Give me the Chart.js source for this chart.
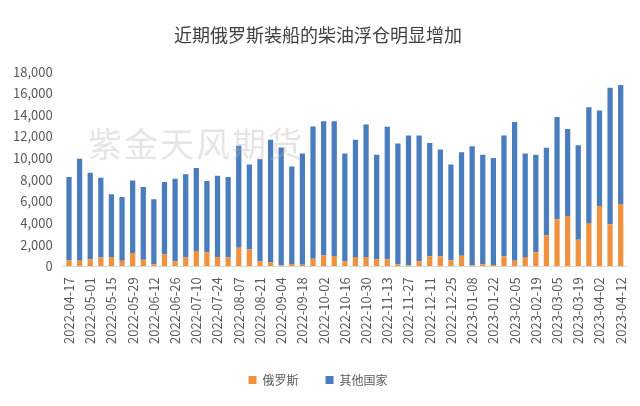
<!DOCTYPE html>
<html>
<head>
<meta charset="utf-8">
<script src="https://cdn.jsdelivr.net/npm/chart.js@4"></script>
<style>
  body { margin: 0; background: #fff; }
  #wrap { width: 640px; height: 406px; position: relative; }
  #wm { position: absolute; left: 88px; top: 118px; font: 34px "Noto Sans CJK SC"; color: rgba(180,180,180,0.35); letter-spacing: 2px; }
</style>
</head>
<body>
<div id="wrap">
  <canvas id="c" width="640" height="406"></canvas>
  <div id="wm">紫金天风期货</div>
</div>
<script>
// 周度日期
const dates = [
  '2022-04-17','2022-04-24','2022-05-01','2022-05-08','2022-05-15','2022-05-22','2022-05-29',
  '2022-06-05','2022-06-12','2022-06-19','2022-06-26','2022-07-03','2022-07-10','2022-07-17',
  '2022-07-24','2022-07-31','2022-08-07','2022-08-14','2022-08-21','2022-08-28','2022-09-04',
  '2022-09-11','2022-09-18','2022-09-25','2022-10-02','2022-10-09','2022-10-16','2022-10-23',
  '2022-10-30','2022-11-06','2022-11-13','2022-11-20','2022-11-27','2022-12-04','2022-12-11',
  '2022-12-18','2022-12-25','2023-01-01','2023-01-08','2023-01-15','2023-01-22','2023-01-29',
  '2023-02-05','2023-02-12','2023-02-19','2023-02-26','2023-03-05','2023-03-12','2023-03-19',
  '2023-03-26','2023-04-02','2023-04-09','2023-04-12'
];

// 俄罗斯
const russia = [
  550,500,650,800,860,500,1230,600,180,1100,430,800,1400,1300,860,800,1700,1550,460,370,100,
  200,150,700,1000,950,460,860,860,650,650,180,100,460,920,920,550,980,100,180,120,920,520,
  860,1300,2860,4340,4650,2460,4000,5570,3880,5750
];

// 其他国家
const others = [
  7700,9440,8000,7390,5790,5900,6710,6720,6010,6680,7670,7700,7680,6580,7510,7450,9440,7870,
  9450,11330,10890,9030,10280,12230,12420,12470,9970,10840,12240,9650,12250,11170,12000,11640,
  10480,9880,8850,9570,11000,10120,9880,11180,12830,9570,9000,8090,9460,8050,8740,10700,8830,
  12620,11000
];

const yTicks = [0, 2000, 4000, 6000, 8000, 10000, 12000, 14000, 16000, 18000];

const font = 'Noto Sans CJK SC';

new Chart(document.getElementById('c'), {
  type: 'bar',
  data: {
    labels: dates,
    datasets: [
      { label: '俄罗斯', data: russia, backgroundColor: '#F0913F', categoryPercentage: 0.9, barPercentage: 0.55 },
      { label: '其他国家', data: others, backgroundColor: '#4A7DBD', categoryPercentage: 0.9, barPercentage: 0.55 }
    ]
  },
  options: {
    responsive: false,
    animation: false,
    layout: { padding: { left: 10, right: 14, top: 4, bottom: 10 } },
    plugins: {
      title: { display: true, text: '近期俄罗斯装船的柴油浮仓明显增加', color: '#404040',
        font: { family: font, size: 18, weight: 'normal' }, padding: { top: 20, bottom: 26 } },
      legend: { position: 'bottom', labels: { color: '#595959', font: { family: font, size: 12 },
        boxWidth: 8, boxHeight: 8, padding: 27 } },
      tooltip: { enabled: false }
    },
    scales: {
      x: {
        stacked: true,
        grid: { display: false },
        border: { color: '#d9d9d9' },
        ticks: {
          autoSkip: false, maxRotation: 90, minRotation: 90, color: '#595959',
          font: { family: font, size: 13 },
          callback: (v, i) => i % 2 === 0 ? dates[i] : ''
        }
      },
      y: {
        stacked: true,
        min: 0, max: 18000,
        grid: { display: false },
        border: { display: false },
        afterBuildTicks: ax => { ax.ticks = yTicks.map(v => ({ value: v })); },
        ticks: { color: '#595959', font: { family: font, size: 13 },
          callback: v => v.toLocaleString('en-US') }
      }
    }
  }
});
</script>
</body>
</html>
